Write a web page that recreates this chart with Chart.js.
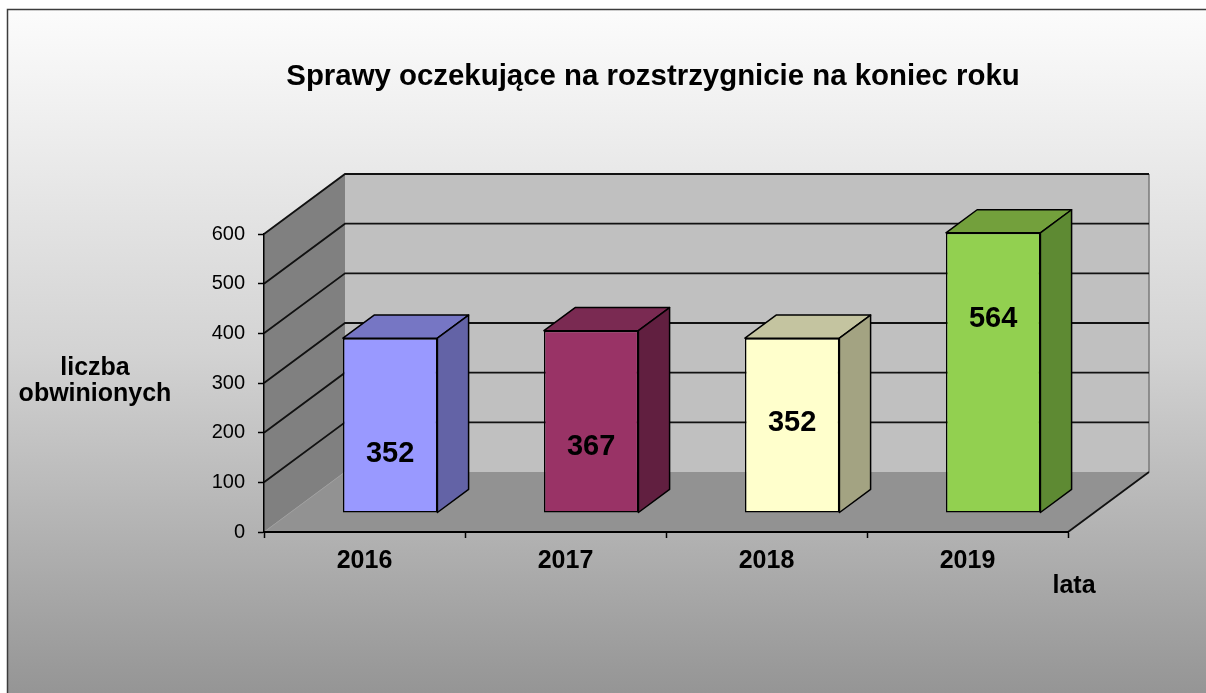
<!DOCTYPE html>
<html>
<head>
<meta charset="utf-8">
<script src="https://cdn.jsdelivr.net/npm/chart.js@4.4.1/dist/chart.umd.min.js"></script>
<style>
    html, body { margin: 0; padding: 0; background: #ffffff; }
    #chart { display: block; }
</style>
</head>
<body>
<canvas id="chart" width="1206" height="693"></canvas>
<script>
// data
const years = ['2016', '2017', '2018', '2019'];
const cases = [352, 367, 352, 564];
const yMax = 600;
const yStep = 100;

// bar colours: front, top, side
const frontColors = ['#9999ff', '#993366', '#ffffcc', '#92d050'];
const topColors = ['#7676c4', '#7a2a52', '#c4c4a0', '#73a03c'];
const sideColors = ['#6363a6', '#611f40', '#a3a382', '#5e8a33'];

// where the number sits inside each bar (fraction of bar height)
const labelLift = [0.35, 0.375, 0.53, 0.70];

const FONT = "'Liberation Sans', Arial, sans-serif";

// depth of the 3D box
const DEPTH_X = 81;
const DEPTH_Y = -60;
const BAR_FRONT = 0.317;   // bars' front face position in depth
const BAR_DEPTH = 0.385;   // bars' thickness in depth

const box3d = {
    id: 'box3d',
    beforeDraw(chart) {
        const ctx = chart.ctx;
        const y = chart.scales.y;
        const L = chart.chartArea.left, R = chart.chartArea.right;
        const B = y.getPixelForValue(0), T = y.getPixelForValue(yMax);

        // background frame
        ctx.save();
        ctx.fillStyle = '#ffffff';
        ctx.fillRect(0, 0, chart.width, chart.height);
        const g = ctx.createLinearGradient(0, 9, 0, chart.height);
        g.addColorStop(0, '#fcfcfc');
        g.addColorStop(0.5, '#d3d3d3');
        g.addColorStop(1, '#959595');
        ctx.fillStyle = g;
        ctx.fillRect(7, 9, chart.width, chart.height);
        ctx.strokeStyle = '#3c3c3c';
        ctx.lineWidth = 1.5;
        ctx.beginPath();
        ctx.moveTo(7.5, chart.height);
        ctx.lineTo(7.5, 9.5);
        ctx.lineTo(chart.width, 9.5);
        ctx.stroke();

        // title and axis names
        ctx.fillStyle = '#000000';
        ctx.textAlign = 'center';
        ctx.textBaseline = 'alphabetic';
        ctx.font = 'bold 29.4px ' + FONT;
        ctx.fillText('Sprawy oczekujące na rozstrzygnicie na koniec roku', 653, 85);
        ctx.font = 'bold 25px ' + FONT;
        ctx.fillText('liczba', 95, 375);
        ctx.fillText('obwinionych', 95, 401);
        ctx.fillText('lata', 1074, 593);

        // walls
        const poly = (pts, fill) => {
            ctx.beginPath();
            ctx.moveTo(pts[0][0], pts[0][1]);
            for (let i = 1; i < pts.length; i++) ctx.lineTo(pts[i][0], pts[i][1]);
            ctx.closePath();
            ctx.fillStyle = fill;
            ctx.fill();
        };
        poly([[L, B], [L, T], [L + DEPTH_X, T + DEPTH_Y], [L + DEPTH_X, B + DEPTH_Y]], '#808080');
        poly([[L + DEPTH_X, T + DEPTH_Y], [R + DEPTH_X, T + DEPTH_Y], [R + DEPTH_X, B + DEPTH_Y], [L + DEPTH_X, B + DEPTH_Y]], '#c0c0c0');
        poly([[L, B], [R, B], [R + DEPTH_X, B + DEPTH_Y], [L + DEPTH_X, B + DEPTH_Y]], '#929292');

        // back wall right edge
        ctx.strokeStyle = '#7a7a7a';
        ctx.lineWidth = 1.5;
        ctx.beginPath();
        ctx.moveTo(R + DEPTH_X, T + DEPTH_Y);
        ctx.lineTo(R + DEPTH_X, B + DEPTH_Y);
        ctx.stroke();

        // floor edge on the left wall
        ctx.strokeStyle = '#a0a0a0';
        ctx.lineWidth = 1;
        ctx.beginPath();
        ctx.moveTo(L, B);
        ctx.lineTo(L + DEPTH_X, B + DEPTH_Y);
        ctx.stroke();

        // grid lines on left and back walls
        ctx.strokeStyle = '#111111';
        ctx.lineWidth = 1.8;
        for (let v = yStep; v <= yMax; v += yStep) {
            const py = y.getPixelForValue(v);
            ctx.beginPath();
            ctx.moveTo(L, py);
            ctx.lineTo(L + DEPTH_X, py + DEPTH_Y);
            ctx.lineTo(R + DEPTH_X, py + DEPTH_Y);
            ctx.stroke();
        }

        // right edge of floor
        ctx.beginPath();
        ctx.moveTo(R, B);
        ctx.lineTo(R + DEPTH_X, B + DEPTH_Y);
        ctx.stroke();
        ctx.restore();
    },
    beforeDatasetsDraw(chart) {
        chart.ctx.save();
        chart.ctx.translate(DEPTH_X * BAR_FRONT, DEPTH_Y * BAR_FRONT);
    },
    afterDatasetsDraw(chart) {
        const ctx = chart.ctx;
        const dx = DEPTH_X * BAR_DEPTH, dy = DEPTH_Y * BAR_DEPTH;
        const meta = chart.getDatasetMeta(0);
        ctx.strokeStyle = '#000000';
        ctx.lineWidth = 1.5;
        ctx.lineJoin = 'round';
        meta.data.forEach((bar, i) => {
            const p = bar.getProps(['x', 'y', 'base', 'width'], true);
            const l = p.x - p.width / 2, r = p.x + p.width / 2;
            // top face
            ctx.beginPath();
            ctx.moveTo(l, p.y);
            ctx.lineTo(l + dx, p.y + dy);
            ctx.lineTo(r + dx, p.y + dy);
            ctx.lineTo(r, p.y);
            ctx.closePath();
            ctx.fillStyle = topColors[i];
            ctx.fill();
            ctx.stroke();
            // side face
            ctx.beginPath();
            ctx.moveTo(r, p.y);
            ctx.lineTo(r + dx, p.y + dy);
            ctx.lineTo(r + dx, p.base + dy);
            ctx.lineTo(r, p.base);
            ctx.closePath();
            ctx.fillStyle = sideColors[i];
            ctx.fill();
            ctx.stroke();
            // value label
            const cy = p.base - (p.base - p.y) * labelLift[i];
            ctx.fillStyle = '#000000';
            ctx.font = 'bold 29px ' + FONT;
            ctx.textAlign = 'center';
            ctx.textBaseline = 'alphabetic';
            ctx.fillText(String(cases[i]), p.x, cy + 10.5);
        });
        ctx.restore();
    }
};

const ctx = document.getElementById('chart').getContext('2d');
new Chart(ctx, {
    type: 'bar',
    data: {
        labels: years,
        datasets: [{
            data: cases,
            backgroundColor: frontColors,
            borderColor: '#000000',
            borderWidth: 1.5,
            borderSkipped: false,
            barPercentage: 0.47,
            categoryPercentage: 1.0
        }]
    },
    options: {
        responsive: false,
        animation: false,
        devicePixelRatio: 1,
        layout: {
            padding: { left: 0, right: 138, top: 234, bottom: 101 }
        },
        plugins: {
            legend: { display: false },
            title: { display: false },
            tooltip: { enabled: false }
        },
        scales: {
            x: {
                afterFit: (scale) => { scale.height = 60; },
                grid: {
                    offset: true,
                    drawOnChartArea: false,
                    drawTicks: true,
                    tickLength: 6,
                    tickColor: '#000000',
                    tickWidth: 1.5
                },
                border: { display: true, color: '#000000', width: 2 },
                ticks: {
                    color: '#000000',
                    padding: 8,
                    font: { family: FONT, size: 25, weight: 'bold' }
                }
            },
            y: {
                min: 0,
                max: yMax,
                afterFit: (scale) => { scale.width = 264; },
                grid: {
                    drawOnChartArea: false,
                    drawTicks: true,
                    tickLength: 6,
                    tickColor: '#000000',
                    tickWidth: 1.5
                },
                border: { display: true, color: '#000000', width: 1.5 },
                ticks: {
                    stepSize: yStep,
                    color: '#000000',
                    padding: 13,
                    font: { family: FONT, size: 20 }
                }
            }
        }
    },
    plugins: [box3d]
});
</script>
</body>
</html>
